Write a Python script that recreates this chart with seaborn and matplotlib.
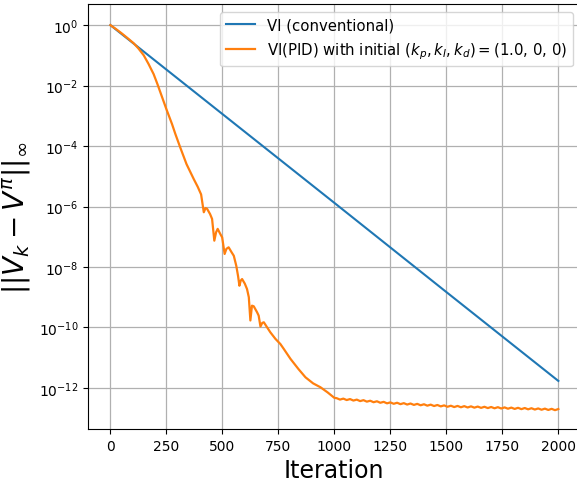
import numpy as np
import pandas as pd
import matplotlib
matplotlib.use("Agg")
import matplotlib.pyplot as plt
import seaborn as sns

# ---- data ----
vi_iter = [0, 500, 1000, 1500, 2000]
vi_log10 = [0.0, -2.94, -5.88, -8.83, -11.77]

pid_iter = [0, 25, 50, 75, 104, 125, 149, 170, 193, 210, 231, 250, 275, 290, 312, 340,
            372, 390, 405, 417, 425,
            432, 445, 454, 464, 472, 479, 490, 499, 510, 518, 528, 540, 551, 562,
            570, 576, 582, 588, 600, 610, 618, 625, 632, 640, 655, 662, 670, 678,
            685, 700, 714, 737, 759, 774, 804, 840, 871, 905, 938, 970, 1000]
pid_log10 = [0.0, -0.13, -0.27, -0.42, -0.6, -0.77, -1.0, -1.28, -1.62, -1.95, -2.39,
             -2.78, -3.27, -3.6, -4.05, -4.6,
             -5.09, -5.35, -5.6, -6.19, -6.05, -6.08, -6.25, -6.41, -7.13, -6.85,
             -6.74, -6.9, -7.02, -7.57, -7.4, -7.35, -7.5, -7.63, -7.96, -8.3, -8.62,
             -8.45, -8.40, -8.55, -8.73, -9.0, -9.77, -9.28, -9.3, -9.50, -9.61,
             -9.97, -9.85, -9.83, -10.0, -10.16, -10.38, -10.55, -10.71, -11.04,
             -11.38, -11.65, -11.85, -11.98, -12.15, -12.33]

tail_iter = list(range(1010, 2001, 15))
tail_log10 = [-12.340, -12.387, -12.355, -12.402, -12.370, -12.419, -12.388, -12.437,
              -12.406, -12.455, -12.425, -12.474, -12.443, -12.492, -12.462, -12.511,
              -12.480, -12.526, -12.492, -12.538, -12.505, -12.551, -12.517, -12.563,
              -12.529, -12.575, -12.542, -12.588, -12.554, -12.600, -12.566, -12.612,
              -12.579, -12.625, -12.590, -12.634, -12.597, -12.641, -12.604, -12.648,
              -12.611, -12.654, -12.618, -12.661, -12.625, -12.668, -12.632, -12.675,
              -12.638, -12.682, -12.645, -12.689, -12.652, -12.696, -12.659, -12.703,
              -12.666, -12.709, -12.673, -12.716, -12.680, -12.723, -12.686, -12.730,
              -12.693, -12.737, -12.700]

label_vi = "VI (conventional)"
label_pid = r"VI(PID) with initial $(k_p, k_I, k_d) = $(1.0, 0, 0)"

df_vi = pd.DataFrame({"Iteration": vi_iter, "err": 10.0 ** np.array(vi_log10)})
df_pid = pd.DataFrame({"Iteration": pid_iter + tail_iter,
                       "err": 10.0 ** np.array(pid_log10 + tail_log10)})

fig = plt.figure(figsize=(5.77, 4.85), dpi=100)
ax = fig.add_axes([0.1525, 0.1134, 0.854, 0.876])

sns.lineplot(data=df_vi, x="Iteration", y="err", ax=ax, color="#1f77b4",
             linewidth=1.5, label=label_vi)
sns.lineplot(data=df_pid, x="Iteration", y="err", ax=ax, color="#ff7f0e",
             linewidth=1.6, label=label_pid)

ax.set_yscale("log")
ax.set_xlim(-100, 2100)
ax.set_ylim(10 ** -13.36, 10 ** 0.694)
ax.set_yticks([10.0 ** e for e in range(-12, 1, 2)])
ax.yaxis.set_minor_locator(matplotlib.ticker.NullLocator())
ax.set_xticks([0, 250, 500, 750, 1000, 1250, 1500, 1750, 2000])
ax.grid(True, color="#b0b0b0", linewidth=0.9)
ax.tick_params(labelsize=10)
ax.set_xlabel("Iteration", fontsize=17)
ax.set_ylabel(r"$||V_k - V^{\pi}||_{\infty}$", fontsize=20)
ax.legend(loc="upper right", fontsize=10.7)

fig.savefig("out.png", dpi=100)
